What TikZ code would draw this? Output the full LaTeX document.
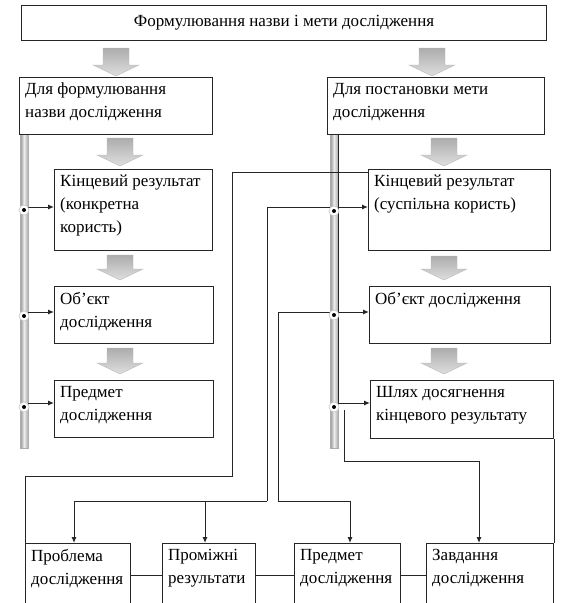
\documentclass[tikz,border=0pt]{standalone}
\usepackage{fontspec}
\setmainfont{Liberation Serif}
\usetikzlibrary{arrows.meta}
\newcommand{\fs}{\fontsize{17}{23}\selectfont}
\tikzset{
  box/.style={draw=black!85, line width=1pt, rectangle, inner sep=0pt, anchor=north west},
  txt/.style={anchor=north west, align=left, inner sep=0pt, font=\fs},
  conn/.style={draw=black!85, line width=1pt},
  arr/.style={conn, -{Latex[length=6pt,width=5pt]}},
  bar/.style={left color=gray!85, right color=gray!65, middle color=gray!15, draw=gray!65, line width=0.4pt},
  dotc/.style={circle, fill=white, draw=gray!45, line width=0.6pt, minimum size=10pt, inner sep=0pt},
  blk/.style={top color=gray!65, bottom color=gray!25, draw=gray!55, line width=0.4pt}
}
\newcommand{\boxat}[6]{%
  \node[box, minimum width=#4pt, minimum height=#5pt] (#1) at (#2,#3) {};
  \node[txt] (#1t) at ([xshift=6pt,yshift=-6pt]#1.north west) {#6};}
\newcommand{\blockarrow}[3]{%
  \path[blk] (#1-13,#2) -- (#1+13,#2) -- (#1+13,#3-11) -- (#1+23,#3-11) -- (#1,#3) -- (#1-23,#3-11) -- (#1-13,#3-11) -- cycle;}
\begin{document}
\begin{tikzpicture}[x=1pt,y=-1pt]
\clip (0,0) rectangle (563,603);
\fill[white] (0,0) rectangle (563,603);
% bars
\path[bar] (20,134) rectangle (28,448);
\path[bar] (330,134) rectangle (338,448);
% boxes
\node[box, minimum width=525pt, minimum height=35pt] (T) at (21,5) {};
\node[font=\fs, inner sep=0pt] (Tt) at (T.center) {Формулювання назви і мети дослідження};
\boxat{L1}{19}{77}{193}{57}{Для формулювання\\назви дослідження}
\boxat{R1}{327}{77}{217}{57}{Для постановки мети\\дослідження}
\boxat{L2}{54}{169}{158}{81}{Кінцевий результат\\(конкретна\\користь)}
\boxat{L3}{54}{286}{159}{57}{Об’єкт\\дослідження}
\boxat{L4}{54}{380}{159}{57}{Предмет\\дослідження}
\boxat{R2}{368}{169}{182}{81}{Кінцевий результат\\(суспільна користь)}
\boxat{R3}{369}{286}{181}{57}{Об’єкт дослідження}
\boxat{R4}{370}{380}{183}{58}{Шлях досягнення\\кінцевого результату}
\boxat{B1}{25}{543}{105}{70}{Проблема\\дослідження}
\boxat{B2}{162}{543}{93}{70}{Проміжні\\результати}
\boxat{B3}{294}{543}{106}{70}{Предмет\\дослідження}
\boxat{B4}{426}{543}{127}{70}{Завдання\\дослідження}
% block arrows
\blockarrow{116}{48}{76}
\blockarrow{432}{48}{76}
\blockarrow{120}{138}{166}
\blockarrow{444}{138}{166}
\blockarrow{120}{255}{280}
\blockarrow{444}{256}{280}
\blockarrow{120}{348}{374}
\blockarrow{444}{348}{374}
% left bar arrows
\draw[arr] (28,207) -- (L2.west |- 0,207);
\draw[arr] (28,312) -- (L3.west |- 0,312);
\draw[arr] (28,403) -- (L4.west |- 0,403);
% connectors
\draw[conn] ([yshift=-3pt]R2.north west) -| (232,476) -| (B1.north west);
\coordinate (j2) at (267,501);
\coordinate (j2b) at (205,501);
\draw[arr] (j2) |- (R2.west |- 0,207);
\draw[arr] (j2) -| (B1.north west -| 74,0);
\draw[arr] (j2b) -- (B2.north west -| j2b);
\coordinate (j3) at (278,501);
\draw[arr] (j3) |- (R3.west |- 0,312);
\draw[arr] (j3) -| (B3.north west -| 350,0);
\draw[arr] (R1.south west -| 338,0) |- (R4.west |- 0,403);
\coordinate (k4) at (479,461);
\draw[arr] (344,410) |- (k4) -- (B4.north west -| k4);
\draw[conn] (R4.south east) -- (B4.north east);
\draw[conn] (B1.east |- 0,575) -- (B2.west |- 0,575);
\draw[conn] (B2.east |- 0,575) -- (B3.west |- 0,575);
\draw[conn] (B3.east |- 0,575) -- (B4.west |- 0,575);
% circles
\foreach \n/\x/\y in {cl1/24/210, cl2/24/316, cl3/24/407, cr1/334/211, cr2/334/315, cr3/334/407}{
  \node[dotc] (\n) at (\x,\y) {};
  \fill[black] (\n.center) circle (2pt);
}
\end{tikzpicture}
\end{document}
